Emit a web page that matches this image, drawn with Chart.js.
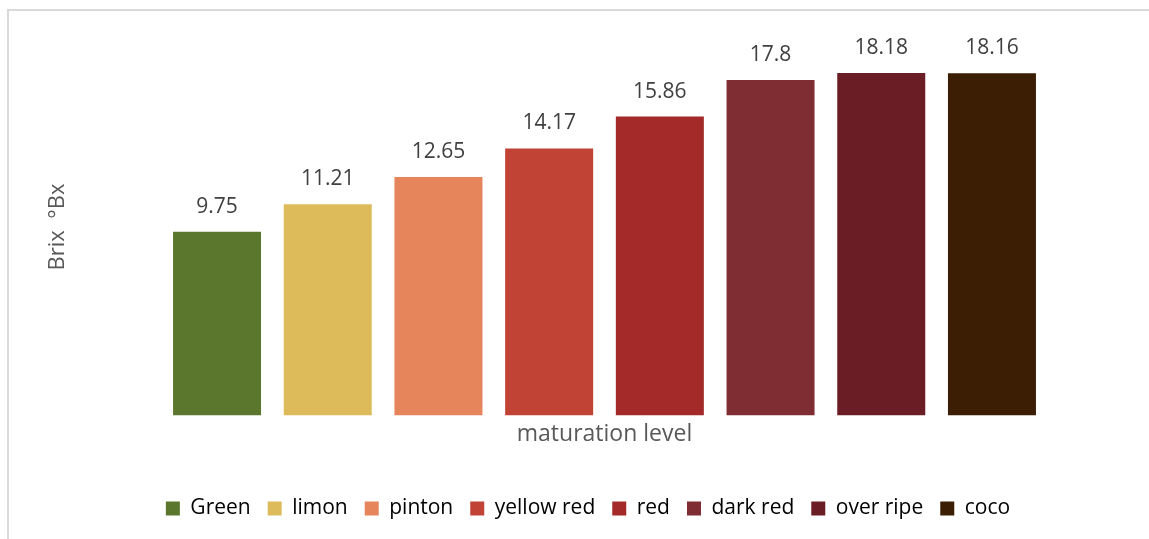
<!DOCTYPE html>
<html>
<head>
<meta charset="utf-8">
<title>Brix by maturation level</title>
<script src="https://cdn.jsdelivr.net/npm/chart.js@4.4.1/dist/chart.umd.min.js"></script>
<style>
  html, body { margin: 0; padding: 0; background: #ffffff; }
  #wrap { width: 1149px; height: 539px; position: relative; }
</style>
</head>
<body>
<div id="wrap"><canvas id="chart" width="1149" height="539"></canvas></div>
<script>
// Maturation stages and their measured Brix values
const categories = ['Green', 'limon', 'pinton', 'yellow red', 'red', 'dark red', 'over ripe', 'coco'];
const brixValues = [9.75, 11.21, 12.65, 14.17, 15.86, 17.8, 18.18, 18.16];
const valueLabels = ['9.75', '11.21', '12.65', '14.17', '15.86', '17.8', '18.18', '18.16'];
const barColors = ['#5B772D', '#DDBB5B', '#E6845B', '#C14335', '#A32A29', '#7F2C33', '#6B1D25', '#3B1E03'];

const FONT = '"Open Sans", "Noto Sans", sans-serif';

// Light frame along the top and left edges, white background
const framePlugin = {
  id: 'frame',
  beforeDraw(chart) {
    const ctx = chart.ctx;
    ctx.save();
    ctx.fillStyle = '#ffffff';
    ctx.fillRect(0, 0, chart.width, chart.height);
    ctx.strokeStyle = '#d9d9d9';
    ctx.lineWidth = 2;
    ctx.beginPath();
    ctx.moveTo(8, chart.height);
    ctx.lineTo(8, 10);
    ctx.lineTo(chart.width, 10);
    ctx.stroke();
    ctx.restore();
  }
};

// Value labels above each bar
const valueLabelPlugin = {
  id: 'valueLabels',
  afterDatasetsDraw(chart) {
    const ctx = chart.ctx;
    const meta = chart.getDatasetMeta(0);
    ctx.save();
    ctx.font = '21px ' + FONT;
    ctx.fillStyle = '#404040';
    ctx.textAlign = 'center';
    ctx.textBaseline = 'middle';
    meta.data.forEach((bar, i) => {
      ctx.fillText(valueLabels[i], bar.x, bar.y - 25);
    });
    ctx.restore();
  }
};

new Chart(document.getElementById('chart'), {
  type: 'bar',
  data: {
    labels: categories,
    datasets: [{
      data: brixValues,
      backgroundColor: barColors,
      borderWidth: 0,
      categoryPercentage: 1,
      barPercentage: 0.795
    }]
  },
  options: {
    responsive: false,
    animation: false,
    devicePixelRatio: 1,
    layout: { padding: { left: 40, right: 13, top: 38.6, bottom: 10 } },
    scales: {
      x: {
        ticks: { display: false },
        grid: { display: false },
        border: { display: false },
        title: {
          display: true,
          text: 'maturation level',
          color: '#595959',
          font: { family: FONT, size: 23 },
          padding: { top: 0, bottom: 33 }
        },
        afterFit(scale) { scale.height = 65.6; }
      },
      y: {
        min: 0,
        max: 20,
        ticks: { display: false },
        grid: { display: false },
        border: { display: false },
        title: {
          display: true,
          text: 'Brix  °Bx',
          color: '#595959',
          font: { family: FONT, size: 22 },
          padding: { top: 5, bottom: 0 }
        },
        afterFit(scale) { scale.width = 121.7; }
      },
      yRight: {
        position: 'right',
        display: true,
        ticks: { display: false },
        grid: { display: false },
        border: { display: false },
        afterFit(scale) { scale.width = 88.7; }
      }
    },
    plugins: {
      tooltip: { enabled: false },
      legend: {
        position: 'bottom',
        labels: {
          boxWidth: 14,
          boxHeight: 14,
          padding: 17,
          color: '#595959',
          font: { family: FONT, size: 21 },
          generateLabels(chart) {
            return categories.map((name, i) => ({
              text: name,
              fillStyle: barColors[i],
              strokeStyle: barColors[i],
              lineWidth: 0,
              hidden: false,
              index: i
            }));
          }
        }
      }
    }
  },
  plugins: [framePlugin, valueLabelPlugin]
});
</script>
</body>
</html>
